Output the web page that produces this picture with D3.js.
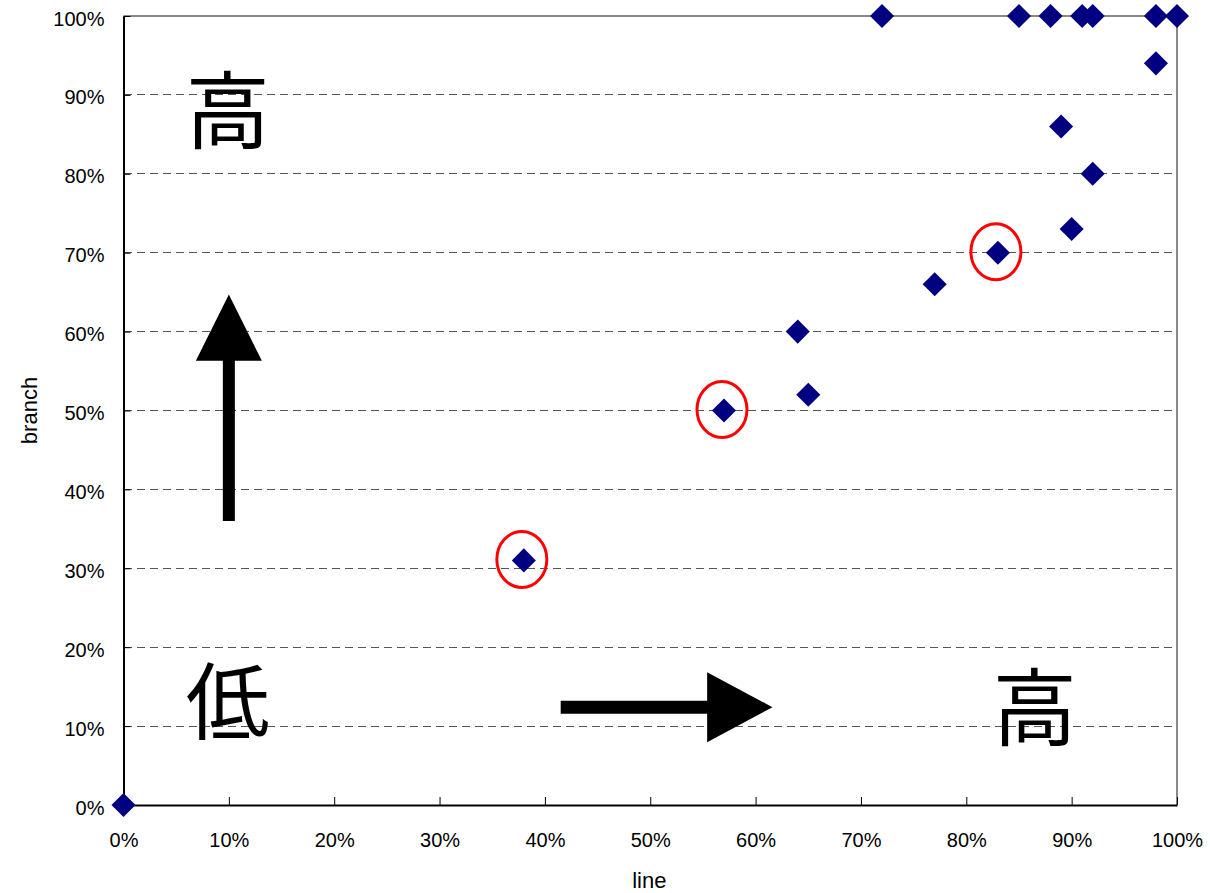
<!DOCTYPE html>
<html><head><meta charset="utf-8">
<script src="https://cdn.jsdelivr.net/npm/d3@7"></script>
<style>body{margin:0;background:#fff;} svg{display:block;}</style>
</head><body>
<svg id="chart" width="1210" height="893"></svg>
<script>
const lineVals   = [0.00,0.38,0.57,0.64,0.65,0.72,0.77,0.83,0.85,0.88,0.89,0.90,0.91,0.92,0.92,0.98,0.98,1.00];
const branchVals = [0.00,0.31,0.50,0.60,0.52,1.00,0.66,0.70,1.00,1.00,0.86,0.73,1.00,1.00,0.80,1.00,0.94,1.00];
const highlighted = [1,2,7];
const tickVals = [0,0.1,0.2,0.3,0.4,0.5,0.6,0.7,0.8,0.9,1.0];
const xTitle = "line";
const yTitle = "branch";
const highChar = "高";
const lowChar = "低";

const svg = d3.select("#chart");
const x = d3.scaleLinear().domain([0,1]).range([123.5,1177]);
const y = d3.scaleLinear().domain([0,1]).range([805,16]);
const fmt = d3.format(".0%");
const FONT = "'Liberation Sans', Arial, sans-serif";

// gridlines
svg.append("g").selectAll("line").data(tickVals.filter(v=>v>0&&v<1)).join("line")
  .attr("x1",x(0)).attr("x2",x(1)).attr("y1",d=>y(d)).attr("y2",d=>y(d))
  .attr("stroke","#555").attr("stroke-width",1).attr("stroke-dasharray","8,5")
  .attr("shape-rendering","crispEdges");

// plot border top/right
svg.append("path").attr("d",`M${x(0)},${y(1)}H${x(1)}V${y(0)}`)
  .attr("fill","none").attr("stroke","#888").attr("stroke-width",2);

// axes
const xAxis = d3.axisBottom(x).tickValues(tickVals).tickFormat(fmt).tickSizeInner(-8).tickSizeOuter(0).tickPadding(28);
const gx = svg.append("g").attr("transform",`translate(0,${y(0)})`).call(xAxis);
gx.select(".domain").attr("stroke","#000").attr("stroke-width",2);
gx.selectAll(".tick line").attr("stroke","#000");
gx.selectAll("text").attr("font-family",FONT).attr("font-size",20).attr("fill","#000");

const yAxis = d3.axisLeft(y).tickValues(tickVals).tickFormat(fmt).tickSizeInner(-7).tickSizeOuter(0).tickPadding(19);
const gy = svg.append("g").attr("transform",`translate(${x(0)},0)`).call(yAxis);
gy.select(".domain").attr("stroke","#000").attr("stroke-width",2);
gy.selectAll(".tick line").attr("stroke","#000");
gy.selectAll("text").attr("font-family",FONT).attr("font-size",20).attr("fill","#000").attr("dy","0.45em");

// axis titles
svg.append("text").attr("x",(x(0)+x(1))/2 - 1).attr("y",888).attr("text-anchor","middle")
  .attr("font-family",FONT).attr("font-size",22).text(xTitle);
svg.append("text").attr("transform",`translate(37,${(y(0)+y(1))/2})rotate(-90)`).attr("text-anchor","middle")
  .attr("font-family",FONT).attr("font-size",22).text(yTitle);

// arrows (data coordinates)
const up = {x:0.10, y0:0.36, yBase:0.563, yTip:0.647, shaftW:12, headW:66};
svg.append("path").attr("fill","#000").attr("d",(()=>{
  const cx=x(up.x), hs=up.shaftW/2, hh=up.headW/2;
  return `M${cx-hs},${y(up.y0)}V${y(up.yBase)}H${cx-hh}L${cx},${y(up.yTip)}L${cx+hh},${y(up.yBase)}H${cx+hs}V${y(up.y0)}Z`;
})());
const right = {y:0.124, x0:0.415, xBase:0.554, xTip:0.616, shaftW:13, headW:70};
svg.append("path").attr("fill","#000").attr("d",(()=>{
  const cy=y(right.y), hs=right.shaftW/2, hh=right.headW/2;
  return `M${x(right.x0)},${cy-hs}H${x(right.xBase)}V${cy-hh}L${x(right.xTip)},${cy}L${x(right.xBase)},${cy+hh}V${cy+hs}H${x(right.x0)}Z`;
})());

// kanji labels
const KFONT = "'Noto Sans CJK JP','Noto Sans CJK SC',sans-serif";
const kanji = [
  {t:highChar, x:0.099, y:0.886},
  {t:lowChar,  x:0.099, y:0.137},
  {t:highChar, x:0.865, y:0.13}
];
svg.append("g").selectAll("text").data(kanji).join("text")
  .attr("x",d=>x(d.x)).attr("y",d=>y(d.y)).attr("text-anchor","middle")
  .attr("dominant-baseline","central").attr("font-family",KFONT)
  .attr("font-size",84).attr("font-weight",400).attr("fill","#000").text(d=>d.t);

// points
const pts = lineVals.map((v,i)=>({x:v,y:branchVals[i],i}));
const diamond = d3.symbol(d3.symbolSquare, 290);
svg.append("g").selectAll("path").data(pts).join("path")
  .attr("d",diamond).attr("fill","#000080")
  .attr("transform",d=>`translate(${x(d.x)},${y(d.y)})rotate(45)`);

// highlight ellipses
svg.append("g").selectAll("ellipse").data(highlighted.map(i=>pts[i])).join("ellipse")
  .attr("cx",d=>x(d.x)-2).attr("cy",d=>y(d.y)-1).attr("rx",25).attr("ry",28)
  .attr("fill","none").attr("stroke","#ff0000").attr("stroke-width",3);
</script>
</body></html>
